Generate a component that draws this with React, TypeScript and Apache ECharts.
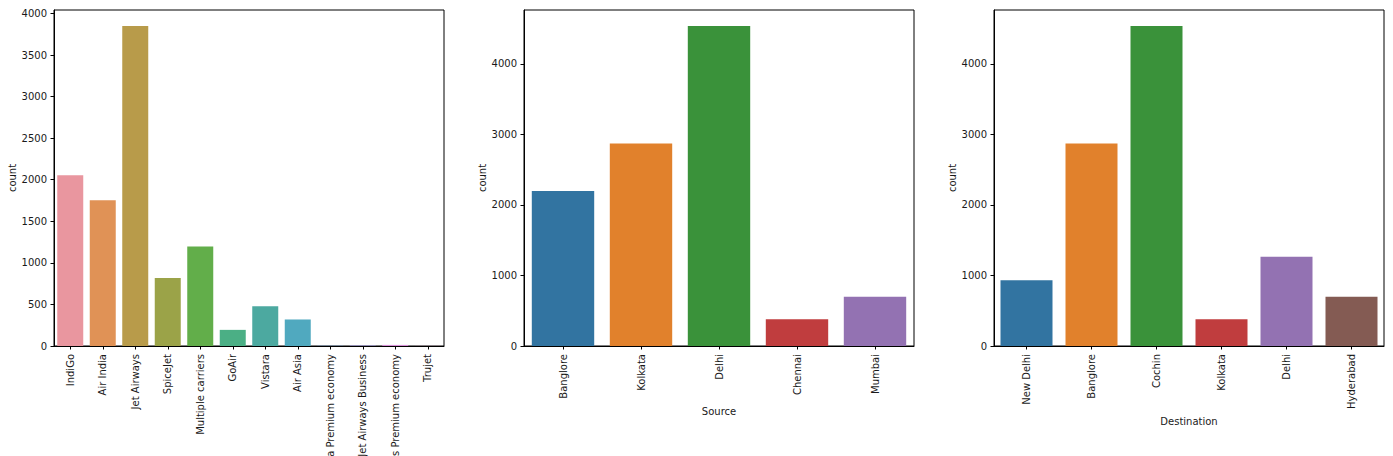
import React, { useEffect, useRef } from "react";
import * as echarts from "echarts";

const airlines = [
  "IndiGo",
  "Air India",
  "Jet Airways",
  "SpiceJet",
  "Multiple carriers",
  "GoAir",
  "Vistara",
  "Air Asia",
  "Vistara Premium economy",
  "Jet Airways Business",
  "Multiple carriers Premium economy",
  "Trujet",
];
const airlineCounts = [2053, 1752, 3849, 818, 1196, 194, 479, 319, 3, 6, 13, 1];
const airlineColors = [
  "#e9969f", "#e09256", "#b89b4a", "#9ba348", "#62ae4a", "#4baf85",
  "#4ca9a0", "#50a9bf", "#6ea2dc", "#a39ae2", "#d68fd6", "#e690bf",
];

const sources = ["Banglore", "Kolkata", "Delhi", "Chennai", "Mumbai"];
const sourceCounts = [2197, 2871, 4537, 381, 697];

const destinations = ["New Delhi", "Banglore", "Cochin", "Kolkata", "Delhi", "Hyderabad"];
const destinationCounts = [932, 2871, 4537, 381, 1265, 697];

const tab10Desat = ["#3274a1", "#e1812c", "#3a923a", "#c03d3e", "#9372b2", "#845b53"];

const ticks1 = [0, 500, 1000, 1500, 2000, 2500, 3000, 3500, 4000];
const ticks23 = [0, 1000, 2000, 3000, 4000];

const FONT = "DejaVu Sans";
const TEXT = "#1a1a1a";

export default function App() {
  const ref = useRef<HTMLDivElement>(null);
  useEffect(() => {
    if (!ref.current) return;
    const chart = echarts.init(ref.current, null, { renderer: "svg" });
    const lefts = [54, 524, 994];
    const grids = lefts.map((l) => ({
      left: l,
      top: 10,
      width: 390,
      height: 336,
      show: true,
      borderColor: "#000",
      borderWidth: 1,
      backgroundColor: "transparent",
      containLabel: false,
      outerBoundsMode: "none",
    }));
    const cats = [airlines, sources, destinations];
    const vals = [airlineCounts, sourceCounts, destinationCounts];
    const colors = [airlineColors, tab10Desat, tab10Desat];
    const ticks = [ticks1, ticks23, ticks23];
    const xNames = ["", "Source", "Destination"];
    const xGaps = [0, 54, 64];

    const xAxes = cats.map((c, i) => ({
      type: "category",
      gridIndex: i,
      data: c,
      name: xNames[i],
      nameLocation: "middle",
      nameGap: xGaps[i],
      nameTextStyle: { fontFamily: FONT, fontSize: 10, color: TEXT },
      axisLine: { show: true, lineStyle: { color: "#000", width: 1 } },
      axisTick: { show: true, alignWithLabel: true, length: 3.5, lineStyle: { color: "#000" } },
      axisLabel: {
        rotate: 90,
        interval: 0,
        margin: 8,
        fontFamily: FONT,
        fontSize: 10,
        color: TEXT,
      },
      splitLine: { show: false },
    }));
    const yAxes = vals.map((v, i) => ({
      type: "value",
      gridIndex: i,
      min: 0,
      max: Math.max(...v) * 1.05,
      name: "count",
      nameLocation: "middle",
      nameGap: 35,
      nameRotate: 90,
      nameTextStyle: { fontFamily: FONT, fontSize: 10, color: TEXT },
      axisLine: { show: true, lineStyle: { color: "#000", width: 1 } },
      axisTick: { show: true, length: 3.5, lineStyle: { color: "#000" }, customValues: ticks[i] },
      axisLabel: {
        margin: 7,
        fontFamily: FONT,
        fontSize: 10,
        color: TEXT,
        customValues: ticks[i],
        formatter: (val: number) => String(Math.round(val)),
      },
      splitLine: { show: false },
    }));
    const series = vals.map((v, i) => ({
      type: "bar",
      xAxisIndex: i,
      yAxisIndex: i,
      barCategoryGap: "20%",
      data: v.map((val, j) => ({ value: val, itemStyle: { color: colors[i][j] } })),
    }));
    chart.setOption({
      animation: false,
      backgroundColor: "#fff",
      grid: grids,
      xAxis: xAxes,
      yAxis: yAxes,
      series,
    } as any);
    return () => chart.dispose();
  }, []);
  return (
    <div
      ref={ref}
      style={{ position: "absolute", left: 0, top: 0, width: 1393, height: 456 }}
    />
  );
}
